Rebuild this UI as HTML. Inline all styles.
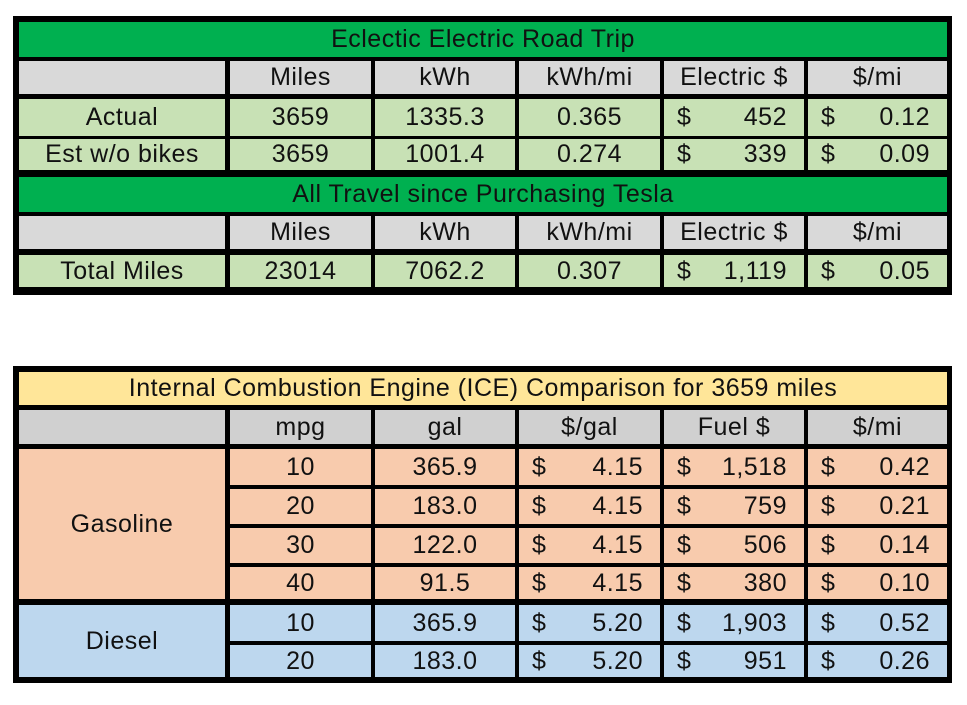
<!DOCTYPE html>
<html><head><meta charset="utf-8"><style>
body{margin:0;width:967px;height:705px;background:#fff;position:relative;overflow:hidden;font-family:"Liberation Sans",Arial,sans-serif;color:#111}
.b{position:absolute;background:#000}
.c{position:absolute;display:flex;align-items:center;justify-content:center;font-size:25px;letter-spacing:0.5px;white-space:nowrap;line-height:1}
.d{justify-content:space-between;padding:0 17px 0 13px;box-sizing:border-box}
.g{background:#00b050}.l{background:#c8e1b5}.y{background:#d9d9d9}.y2{background:#d0d0d0}.w{background:#ffe699}.o{background:#f8cbad}.u{background:#bdd7ee}
</style></head><body>
<div class="b" style="left:13px;top:16px;width:939px;height:279px"></div>
<div class="b" style="left:13px;top:366px;width:939px;height:317px"></div>
<div id="t"></div>
<script>
var X=[[19,225],[230,371],[375,515],[519,660],[664,804],[808,947]];
var h='';
function cell(x1,x2,y1,y2,cls,txt,dol){
 h+='<div class="c '+cls+(dol?' d':'')+'" style="left:'+x1+'px;top:'+y1+'px;width:'+(x2-x1)+'px;height:'+(y2-y1)+'px">'+(dol?'<span>$</span><span>'+txt+'</span>':txt)+'</div>';
}
function row(y1,y2,cls,vals,skip0){
 for(var i=0;i<6;i++){ if(i==0&&skip0)continue; var v=vals[i]; var dol=false; if(typeof v=='string'&&v.charAt(0)=='$'&&v.length>1&&i>=3&&v!='$/mi'&&v!='$/gal'){dol=true;v=v.slice(1);} cell(X[i][0],X[i][1],y1,y2,cls,v,dol);}
}
cell(19,947,22,57,'g','Eclectic Electric Road Trip');
row(61,94,'y',['','Miles','kWh','kWh/mi','Electric $','$/mi']);
row(99,136,'l',['Actual','3659','1335.3','0.365','$452','$0.12']);
row(139,170,'l',['Est w/o bikes','3659','1001.4','0.274','$339','$0.09']);
cell(19,947,177,212,'g','All Travel since Purchasing Tesla');
row(216,249,'y',['','Miles','kWh','kWh/mi','Electric $','$/mi']);
row(255,287,'l',['Total Miles','23014','7062.2','0.307','$1,119','$0.05']);
cell(19,947,372,405,'w','Internal Combustion Engine (ICE) Comparison for 3659 miles');
row(410,444,'y2',['','mpg','gal','$/gal','Fuel $','$/mi']);
cell(19,225,449,599,'o','Gasoline');
row(449,485,'o',['','10','365.9','$4.15','$1,518','$0.42'],1);
row(489,524,'o',['','20','183.0','$4.15','$759','$0.21'],1);
row(528,563,'o',['','30','122.0','$4.15','$506','$0.14'],1);
row(567,599,'o',['','40','91.5','$4.15','$380','$0.10'],1);
cell(19,225,605,677,'u','Diesel');
row(605,641,'u',['','10','365.9','$5.20','$1,903','$0.52'],1);
row(645,677,'u',['','20','183.0','$5.20','$951','$0.26'],1);
document.getElementById('t').innerHTML=h;
</script>
</body></html>
